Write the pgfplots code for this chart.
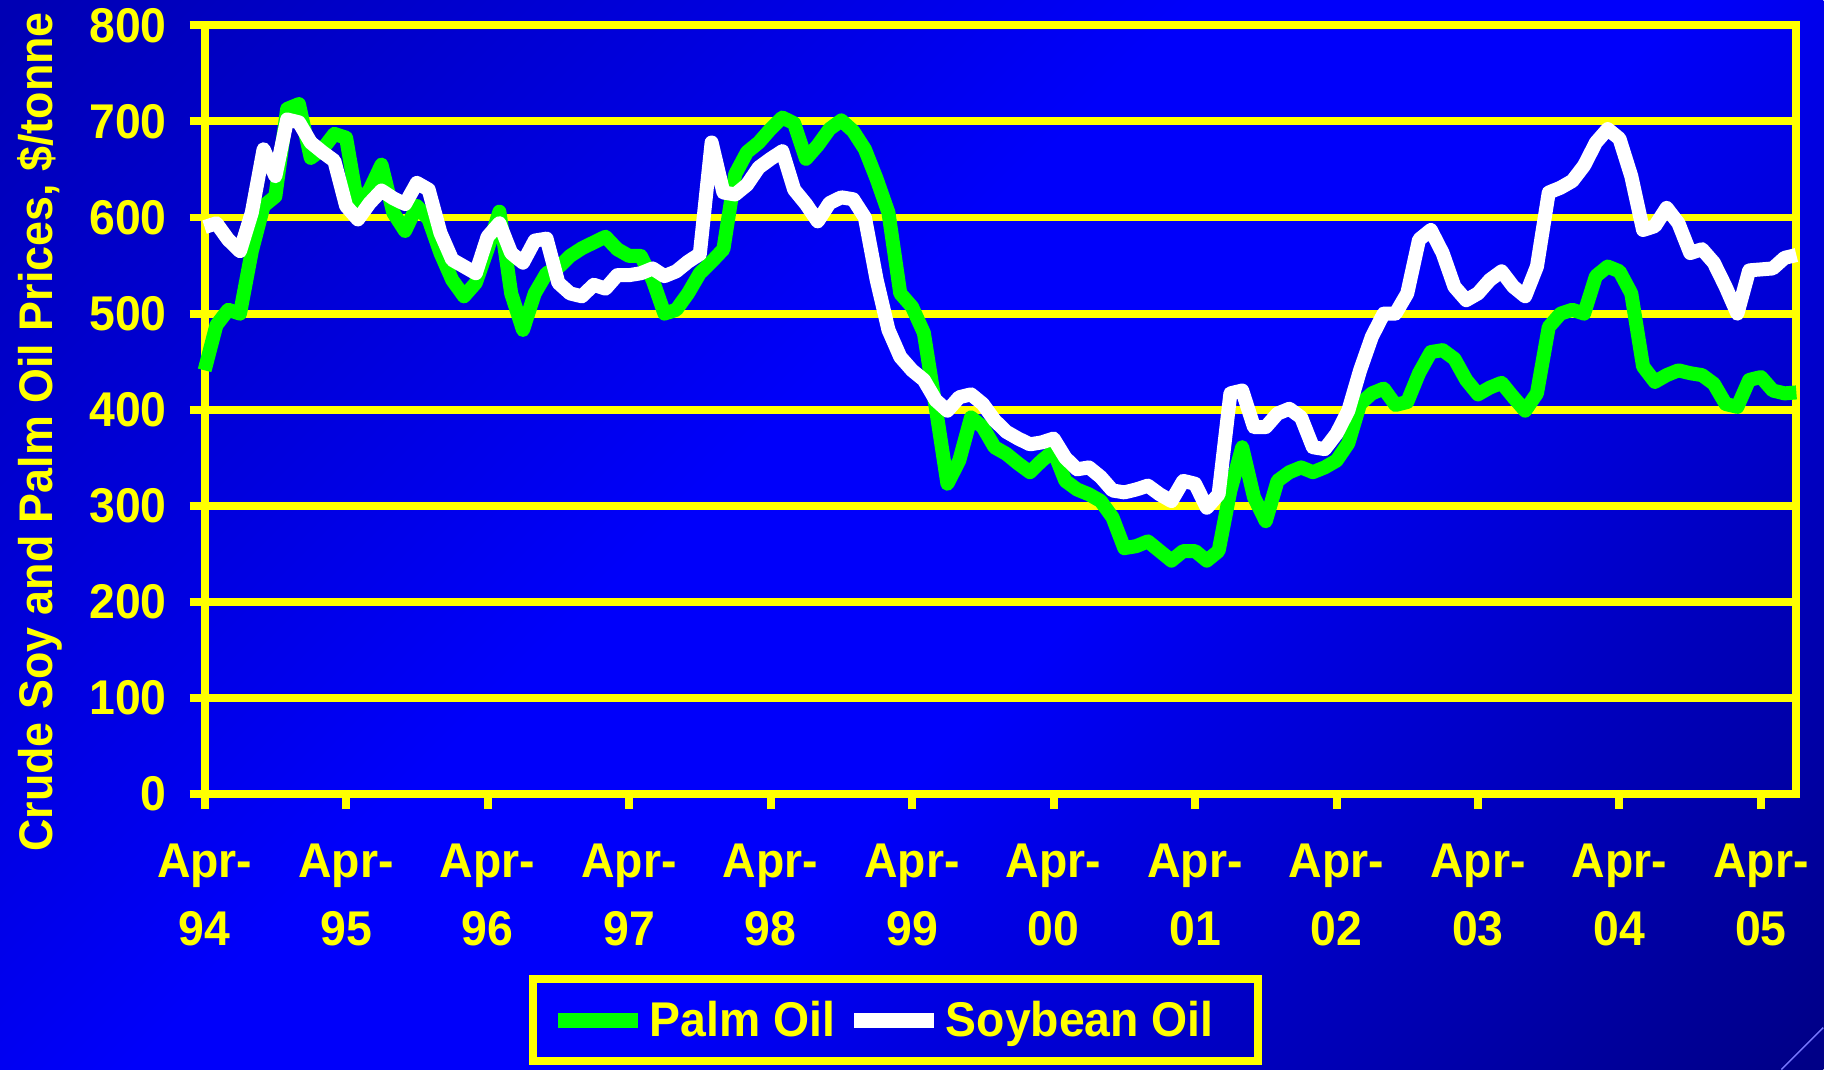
\documentclass[border=0pt]{standalone}
\usepackage{pgfplots}
\usepackage{pgfplotstable}
\pgfplotsset{compat=1.18}
\usepackage{fontspec}
\setmainfont{Liberation Sans}
\newfontfamily\narrowsans[FakeStretch=0.95]{Liberation Sans}

\definecolor{bgdark}{RGB}{0,0,180}
\definecolor{bgmid}{RGB}{0,0,250}
\definecolor{bgend}{RGB}{0,0,135}
\definecolor{chartyellow}{RGB}{255,255,0}
\definecolor{palmgreen}{RGB}{0,255,0}
\definecolor{decor}{RGB}{120,120,255}

\pgfdeclarehorizontalshading{slidebg}{100bp}{%
  color(0bp)=(bgdark); color(15bp)=(bgdark); color(44bp)=(bgmid);
  color(56bp)=(bgmid); color(85bp)=(bgend); color(100bp)=(bgend)}

\newcommand\chartfont{\narrowsans\fontsize{24.4bp}{34bp}\selectfont\bfseries}
\newcommand\titlefont{\narrowsans\fontsize{23.6bp}{30bp}\selectfont\bfseries}

% Monthly crude palm and soybean oil prices, $/tonne, from Apr-94 (month 0)
\pgfplotstableread{
m palm soy
0 441 590
1 488 594
2 504 577
3 500 565
4 565 605
5 612 671
6 622 643
7 713 702
8 718 699
9 662 678
10 671 668
11 687 659
12 683 612
13 612 598
14 629 615
15 655 628
16 605 620
17 586 614
18 612 636
19 598 629
20 563 584
21 535 556
22 518 549
23 532 542
24 567 580
25 606 594
26 521 563
27 483 553
28 521 576
29 542 578
30 548 532
31 560 521
32 568 518
33 574 530
34 580 526
35 567 540
36 560 540
37 560 542
38 535 547
39 500 539
40 504 544
41 521 554
42 542 562
43 554 678
44 567 626
45 645 624
46 668 634
47 678 652
48 692 661
49 704 669
50 698 629
51 661 614
52 675 596
53 692 615
54 701 621
55 690 619
56 671 600
57 640 535
58 605 483
59 521 455
60 507 441
61 480 431
62 403 410
63 323 399
64 347 413
65 392 416
66 382 406
67 361 389
68 354 377
69 344 370
70 335 364
71 347 366
72 357 370
73 326 350
74 317 338
75 312 340
76 305 330
77 288 316
78 256 314
79 258 317
80 263 321
81 253 312
82 243 305
83 253 326
84 253 323
85 243 298
86 253 312
87 316 417
88 361 420
89 309 382
90 284 382
91 326 396
92 335 401
93 340 392
94 335 361
95 340 359
96 347 375
97 365 399
98 406 441
99 417 476
100 422 500
101 405 500
102 408 521
103 438 577
104 460 587
105 462 563
106 453 528
107 431 514
108 416 521
109 423 535
110 428 544
111 413 528
112 399 518
113 417 549
114 486 626
115 500 631
116 504 638
117 500 654
118 539 678
119 549 692
120 544 682
121 521 643
122 445 587
123 429 591
124 436 610
125 441 594
126 438 563
127 436 567
128 427 553
129 406 528
130 403 500
131 431 545
132 434 546
133 420 547
134 417 558
135 418 561
}\oildata

\begin{document}
\begin{tikzpicture}[x=1bp,y=1bp]
  % slide background
  \shade[shading=slidebg, shading angle=-45] (0,0) rectangle (912,535);
  \draw[decor, line width=0.7bp] (891,0) -- (912,21);
  \begin{axis}[
    at={(102.35bp,137.75bp)}, anchor=south west,
    scale only axis, width=796.15bp, height=384.6bp,
    xmin=0, xmax=135, ymin=0, ymax=800,
    clip=false,
    axis line style={chartyellow, line width=4bp},
    tick style={chartyellow, line width=4bp},
    major tick length=7.5bp,
    tick align=outside,
    xtick pos=bottom, ytick pos=left,
    xtick={0,12,...,132},
    xticklabels={{Apr-\\94},{Apr-\\95},{Apr-\\96},{Apr-\\97},{Apr-\\98},{Apr-\\99},
                 {Apr-\\00},{Apr-\\01},{Apr-\\02},{Apr-\\03},{Apr-\\04},{Apr-\\05}},
    ytick={0,100,...,800},
    ymajorgrids,
    grid style={chartyellow, line width=4bp},
    tick label style={font=\chartfont, text=chartyellow},
    /pgf/number format/assume math mode=true,
    xticklabel style={align=center, yshift=-14bp},
    yticklabel style={xshift=-8bp},
    ylabel={Crude Soy and Palm Oil Prices, \$/tonne},
    ylabel style={at={(axis description cs:-0.1034,0.471)}, anchor=center,
                  font=\titlefont, text=chartyellow},
    legend style={at={(axis description cs:0.4338,-0.2938)}, anchor=center,
                  draw=chartyellow, line width=4bp, fill=none,
                  font=\chartfont, text=chartyellow,
                  inner xsep=9bp, inner ysep=9bp,
                  /tikz/every even column/.append style={column sep=4bp}},
    legend columns=-1,
    legend image code/.code={\draw[#1, line width=7.5bp] (0bp,0bp) -- (40bp,0bp);},
  ]
    \addplot[palmgreen, line width=7bp, line join=round] table[x=m, y=palm] {\oildata};
    \addplot[white, line width=7bp, line join=round] table[x=m, y=soy] {\oildata};
    \legend{Palm Oil, Soybean Oil\hspace*{11bp}}
  \end{axis}
\end{tikzpicture}
\end{document}
